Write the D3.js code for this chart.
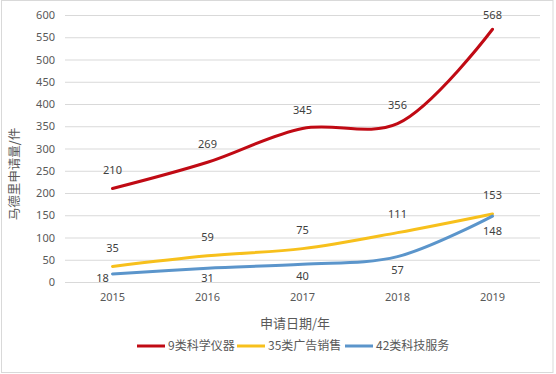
<!DOCTYPE html>
<html lang="zh">
  <head>
    <meta charset="UTF-8" />
    <title>马德里申请量</title>
    <script src="https://d3js.org/d3.v7.min.js"></script>
    <style>
      body {
        margin: 0;
        background-color: #fff;
        font-family: "Noto Sans CJK SC", "Noto Sans", sans-serif;
      }
    </style>
  </head>
  <body>
    <div id="chart-container"></div>
    <script>
      // data
      const years = ["2015", "2016", "2017", "2018", "2019"];
      const seriesNames = ["9类科学仪器", "35类广告销售", "42类科技服务"];
      const class9 = [210, 269, 345, 356, 568];
      const class35 = [35, 59, 75, 111, 153];
      const class42 = [18, 31, 40, 57, 148];
      const yTicks = [0, 50, 100, 150, 200, 250, 300, 350, 400, 450, 500, 550, 600];

      const width = 556;
      const height = 374;
      const margin = { top: 15, right: 16, bottom: 92, left: 65 };

      const colors = ["#c00a14", "#f7c01c", "#5b95cb"];
      const series = [class9, class35, class42];

      const svg = d3
        .select("#chart-container")
        .append("svg")
        .attr("width", width)
        .attr("height", height);

      // outer border
      svg
        .append("rect")
        .attr("x", 1.5)
        .attr("y", 0.5)
        .attr("width", 551.5)
        .attr("height", 372)
        .attr("fill", "#fff")
        .attr("stroke", "#d9d9d9");

      const x = d3
        .scaleBand()
        .domain(years)
        .range([margin.left, width - margin.right]);

      const y = d3
        .scaleLinear()
        .domain([0, 600])
        .range([height - margin.bottom, margin.top]);

      const cx = (d, i) => x(years[i]) + x.bandwidth() / 2;

      // gridlines + y labels
      const yAxis = d3
        .axisLeft(y)
        .tickValues(yTicks)
        .tickSize(-(width - margin.left - margin.right))
        .tickPadding(10);

      const yg = svg
        .append("g")
        .attr("transform", `translate(${margin.left},0)`)
        .call(yAxis);
      yg.select(".domain").remove();
      yg.selectAll(".tick line").attr("stroke", "#d9d9d9");
      yg.selectAll(".tick text")
        .attr("fill", "#595959")
        .style("font-size", "11px")
        .style("font-family", "Noto Sans, sans-serif");

      // x labels
      const xg = svg
        .append("g")
        .attr("transform", `translate(0,${height - margin.bottom})`)
        .call(d3.axisBottom(x).tickSize(0).tickPadding(11));
      xg.select(".domain").remove();
      xg.selectAll(".tick text")
        .attr("fill", "#595959")
        .style("font-size", "11px")
        .style("font-family", "Noto Sans, sans-serif");

      // axis titles
      svg
        .append("text")
        .attr("x", 295)
        .attr("y", 328)
        .attr("text-anchor", "middle")
        .attr("fill", "#595959")
        .style("font-size", "13px")
        .text("申请日期/年");

      svg
        .append("text")
        .attr("transform", "translate(19,174) rotate(-90)")
        .attr("text-anchor", "middle")
        .attr("fill", "#595959")
        .style("font-size", "12.5px")
        .text("马德里申请量/件");

      // smoothed lines
      const line = d3
        .line()
        .x(cx)
        .y((d) => y(d))
        .curve(d3.curveCatmullRom.alpha(0.5));

      series.forEach((values, k) => {
        svg
          .append("path")
          .datum(values)
          .attr("d", line)
          .attr("fill", "none")
          .attr("stroke", colors[k])
          .attr("stroke-width", 3)
          .attr("stroke-linecap", "round");
      });

      // data labels: first two series above, blue below
      series.forEach((values, k) => {
        svg
          .append("g")
          .selectAll("text")
          .data(values)
          .join("text")
          .attr("x", (d, i) => cx(d, i) + (k === 2 && i === 0 ? -10 : 0))
          .attr("y", (d, i) => {
            if (k < 2) return y(d) - (i === 4 && k === 0 ? 14 : 18.5);
            if (i === 0) return y(d) + 4;
            return y(d) + 8 + i * 1.8;
          })
          .attr("dy", "0.35em")
          .attr("text-anchor", "middle")
          .attr("fill", "#404040")
          .style("font-size", "11px")
          .style("font-family", "Noto Sans, sans-serif")
          .text((d) => d);
      });

      // legend
      const legendPos = [137, 237, 345];
      const legend = svg.append("g").attr("transform", "translate(0,346)");
      seriesNames.forEach((name, k) => {
        const item = legend.append("g").attr("transform", `translate(${legendPos[k]},0)`);
        item
          .append("line")
          .attr("x1", 0)
          .attr("x2", 28)
          .attr("stroke", colors[k])
          .attr("stroke-width", 3);
        item
          .append("text")
          .attr("x", 31)
          .attr("dy", "0.35em")
          .attr("fill", "#595959")
          .style("font-size", "12px")
          .text(name);
      });
    </script>
  </body>
</html>
